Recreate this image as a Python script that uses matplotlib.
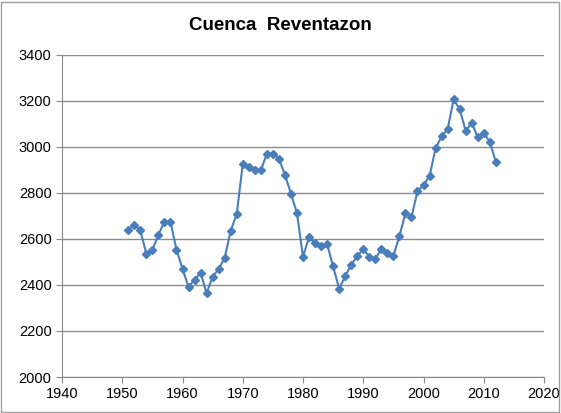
import matplotlib.pyplot as plt
from matplotlib.patches import Rectangle

years = list(range(1951, 2013))
values = [2639, 2662, 2636, 2535, 2552, 2617, 2675, 2675, 2553, 2470,
          2391, 2423, 2452, 2364, 2436, 2468, 2517, 2635, 2707, 2924,
          2911, 2897, 2897, 2969, 2970, 2948, 2878, 2796, 2711, 2522,
          2607, 2580, 2567, 2577, 2480, 2384, 2437, 2488, 2524, 2556,
          2522, 2513, 2556, 2540, 2525, 2612, 2710, 2694, 2806, 2833,
          2872, 2992, 3045, 3075, 3205, 3163, 3068, 3104, 3040, 3060,
          3021, 2934]

x_ticks = list(range(1940, 2021, 10))
y_ticks = list(range(2000, 3401, 200))

plt.rcParams['font.family'] = ['Liberation Sans', 'DejaVu Sans']

fig = plt.figure(figsize=(5.61, 4.13), dpi=100)
plt.subplots_adjust(left=62/561, right=544/561, top=1-54.5/413, bottom=1-377/413)
ax = fig.add_subplot(1, 1, 1)

ax.plot(years, values, color='#4a7ebb', linewidth=1.5, marker='D',
        markersize=4, markerfacecolor='#4a7ebb', markeredgecolor='#4a7ebb')

ax.set_xlim(1940, 2020)
ax.set_ylim(2000, 3400)
ax.set_xticks(x_ticks)
ax.set_yticks(y_ticks)
ax.tick_params(labelsize=10.5, colors='#888888', labelcolor='black', length=4)
ax.grid(axis='y', color='#8c8c8c', linewidth=1)
ax.set_axisbelow(True)
for side in ['top', 'right']:
    ax.spines[side].set_visible(False)
for side in ['left', 'bottom']:
    ax.spines[side].set_color('#888888')

fig.text(0.5, 1-25/413, 'Cuenca  Reventazon', ha='center', va='center',
         fontsize=13.5, fontweight='bold')

# chart frame
fig.patches.append(Rectangle((1/561, 1/413), 558/561, 410/413, transform=fig.transFigure,
                             fill=False, edgecolor='#a0a0a0', linewidth=1))

plt.savefig('out.png', dpi=100)
